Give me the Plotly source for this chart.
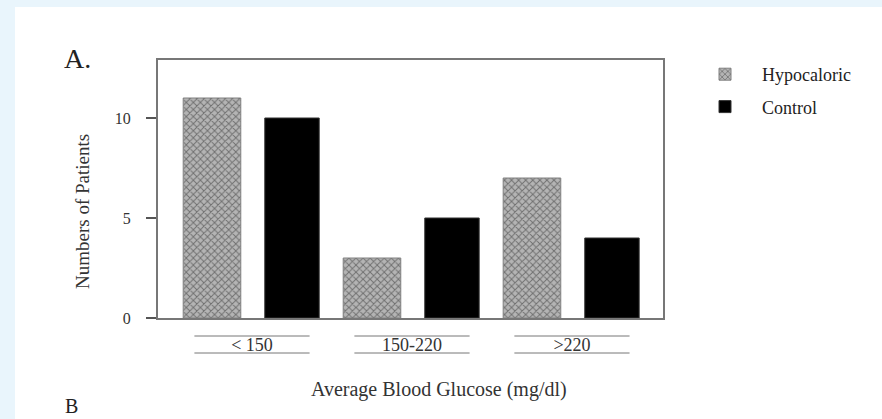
import plotly.graph_objects as go

categories = ["< 150", "150-220", ">220"]
hypocaloric = [11, 3, 7]
control = [10, 5, 4]
y_ticks = [0, 5, 10]

W, H = 882, 419
L, R, T, B = 158, 219, 60, 101
pw, ph = W - L - R, H - T - B

def px_x(px):
    return (px - L) / pw

def px_y(py):
    return (H - B - py) / ph

serif = "Liberation Serif"
xs = list(range(len(categories)))

fig = go.Figure()
fig.add_trace(go.Bar(
    x=xs, y=hypocaloric, name="Hypocaloric", legendgroup="h",
    width=0.36, offset=-0.43,
    marker=dict(color="#a8a8a8",
                line=dict(color="#808080", width=1),
                pattern=dict(shape="x", fgcolor="#2a2a2a", bgcolor="#b4b4b4",
                             size=5, solidity=0.35)),
))
fig.add_trace(go.Bar(
    x=xs, y=control, name="Control", legendgroup="c",
    width=0.34, offset=0.08,
    marker=dict(color="#000000", line=dict(color="#333333", width=1)),
))

shapes = [
    dict(type="rect", xref="paper", yref="paper",
         x0=px_x(15), x1=px_x(W + 5), y0=px_y(H + 5), y1=px_y(7),
         fillcolor="white", line=dict(width=0), layer="below"),
]
for i in xs:
    for yy in (336, 353):
        shapes.append(dict(type="line", xref="x", yref="paper",
                           x0=i - 0.36, x1=i + 0.36, y0=px_y(yy), y1=px_y(yy),
                           line=dict(color="#777777", width=1)))

annotations = [
    dict(text="A.", x=px_x(62), y=px_y(58), xref="paper", yref="paper",
         xanchor="left", yanchor="middle", showarrow=False,
         font=dict(family=serif, size=28, color="#222222")),
    dict(text="B", x=px_x(63), y=px_y(H), xref="paper", yref="paper",
         xanchor="left", yanchor="bottom", showarrow=False,
         font=dict(family=serif, size=20, color="#222222")),
    dict(text="Average Blood Glucose (mg/dl)", x=px_x(439), y=px_y(389),
         xref="paper", yref="paper", xanchor="center", yanchor="middle",
         showarrow=False, font=dict(family=serif, size=20, color="#333333")),
    dict(text="Numbers of Patients", x=px_x(83), y=px_y(212),
         xref="paper", yref="paper", xanchor="center", yanchor="middle",
         textangle=-90, showarrow=False,
         font=dict(family=serif, size=19, color="#333333")),
]

fig.update_layout(
    width=W, height=H,
    margin=dict(l=L, r=R, t=T, b=B, pad=0),
    paper_bgcolor="#e9f5fc",
    plot_bgcolor="white",
    showlegend=True,
    legend=dict(x=px_x(688), y=px_y(56), xanchor="left", yanchor="top",
                bgcolor="rgba(0,0,0,0)", itemwidth=64, tracegroupgap=6,
                traceorder="grouped",
                font=dict(family=serif, size=18, color="#222222")),
    xaxis=dict(range=[-0.5875, 2.569], tickmode="array", tickvals=xs,
               ticktext=categories, showline=True, linecolor="#777777",
               linewidth=2, mirror=True, ticks="", showgrid=False,
               zeroline=False, ticklabelstandoff=9,
               tickfont=dict(family=serif, size=18, color="#333333")),
    yaxis=dict(range=[0, 12.9], tickmode="array", tickvals=y_ticks,
               showline=True, linecolor="#777777", linewidth=2, mirror=True,
               ticks="outside", ticklen=10, tickcolor="#555555", tickwidth=1.5,
               showgrid=False, zeroline=False, ticklabelstandoff=12,
               tickfont=dict(family=serif, size=16, color="#333333")),
    shapes=shapes,
    annotations=annotations,
)

fig.write_html("out.html", config={"displayModeBar": False},
               post_script="document.body.style.margin='0';document.body.style.padding='0';")
